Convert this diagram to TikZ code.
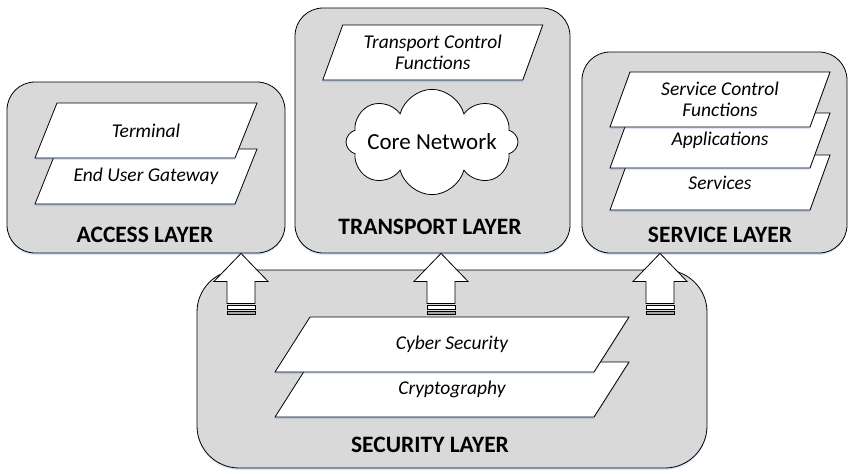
\documentclass[tikz,border=0pt]{standalone}
\usepackage{fontspec}
\setmainfont{Carlito}
\usetikzlibrary{shapes.symbols,shadows}
\definecolor{layergray}{RGB}{217,217,217}
% parallelogram with a named text node: name, x, y, width, slant, text
\newcommand{\funcnode}[6]{%
  \filldraw[glow, fill=white, line width=0.8pt, shift={(#2,#3)}]
    ({-#4/2+#5/2},-27.5) -- ({#4/2+#5/2},-27.5) -- ({#4/2-#5/2},27.5) -- ({-#4/2-#5/2},27.5) -- cycle;
  \node[functext] (#1) at (#2,#3) {#6};}

\begin{document}
\begin{tikzpicture}[x=1pt,y=-1pt]
\tikzset{glow/.style = {drop shadow={shadow xshift=0pt, shadow yshift=-2pt, fill=blue!60!cyan, opacity=0.15}},
  layer/.style = {glow, draw, fill=layergray, rounded corners=28pt, line width=0.8pt},
  functext/.style = {align=center, inner sep=0pt, font=\fontsize{19.5}{21}\selectfont\itshape},
  title/.style = {font=\fontsize{23.5}{26}\selectfont\bfseries},
  uparrow/.pic = {
    \draw[fill=white, line width=0.8pt] (0,0) -- (27,28) -- (14,28) -- (14,50)
      -- (-14,50) -- (-14,28) -- (-27,28) -- cycle;
    \draw[fill=white, line width=0.8pt] (-14,52) rectangle (14,56);
    \draw[fill=gray!70, line width=0.8pt] (-14,58) rectangle (14,61);}}
\useasboundingbox (0,0) rectangle (849,474);
% layers
\node[layer, minimum width=278pt, minimum height=171pt] (acc) at (146,167.5) {};
\node[layer, minimum width=275pt, minimum height=245pt] (tra) at (432.5,130.5) {};
\node[layer, minimum width=265pt, minimum height=201pt] (ser) at (714.5,152.5) {};
\node[layer, rounded corners=42pt, minimum width=510pt, minimum height=198pt] (sec) at (452,369) {};
% access layer
\funcnode{gate}{146}{176.5}{200}{22}{End User Gateway}
\funcnode{term}{146}{130.5}{200}{22}{Terminal}
\node[title] (acct) at (145,235) {ACCESS LAYER};
% transport layer
\funcnode{tcf}{432.75}{52.5}{200}{20}{Transport Control\\Functions}
\node[cloud, draw, fill=white, cloud puffs=8, aspect=1.6, line width=0.8pt, inner xsep=-22pt, inner ysep=-4pt,
  minimum width=172pt, minimum height=97pt, font=\fontsize{23}{26}\selectfont] (core) at (432,142) {Core Network};
\node[title] (trat) at (430,227) {TRANSPORT LAYER};
% service layer
\funcnode{svc}{720}{182.5}{200}{20}{Services}
\funcnode{app}{720}{140.5}{200}{20}{Applications}
\funcnode{scf}{720}{99.5}{200}{20}{Service Control\\Functions}
\node[title] (sert) at (720,235) {SERVICE LAYER};
% security layer
\funcnode{cry}{452}{389.5}{319}{35}{Cryptography}
\funcnode{cyb}{452}{344.5}{319}{35}{Cyber Security}
\node[title] (sect) at (430,445) {SECURITY LAYER};
% arrows
\coordinate (s1) at (241,270);
\coordinate (s2) at (441,270);
\coordinate (s3) at (660,270);
\path (acc.south -| s1) pic {uparrow};
\path (tra.south -| s2) pic {uparrow};
\path (ser.south -| s3) pic {uparrow};
\end{tikzpicture}
\end{document}
